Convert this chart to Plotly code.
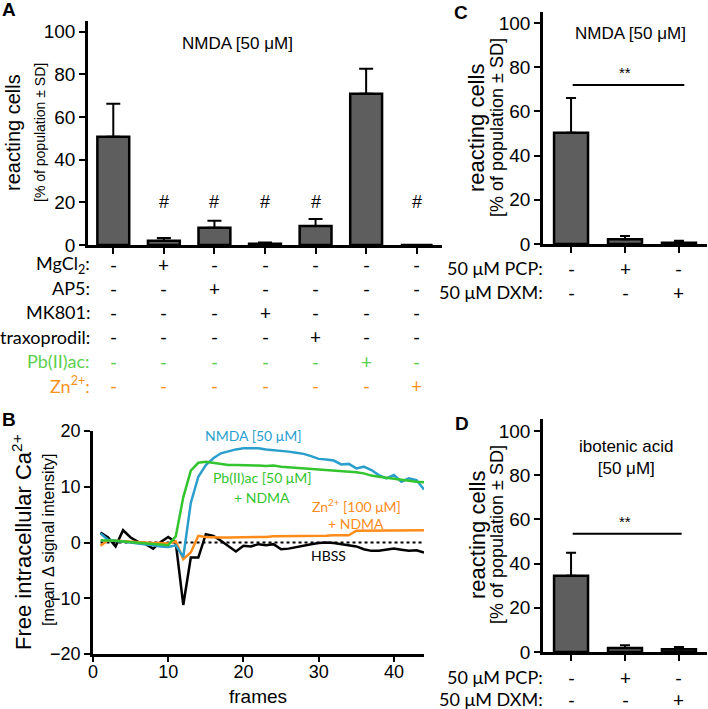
import plotly.graph_objects as go

W, H = 708, 709
def px(x): return x / W
def py(y): return 1 - y / H

ARIAL = "Liberation Sans, Arial, sans-serif"
CAL = "Lato, Carlito, Calibri, sans-serif"
BAR_FILL = "#5e5e5e"
BLUE = "#2b9fcc"
GREEN = "#33c42f"
ORANGE = "#ff8c1a"
GREEN_T = "#5ccf4e"
ORANGE_T = "#f7931e"

# ---------------- Panel A data ----------------
a_cats = [0, 1, 2, 3, 4, 5, 6]
a_vals = [50.7, 2.0, 8.1, 0.6, 8.9, 70.9, 0.0]
a_err = [15.5, 1.3, 3.3, 0.6, 3.3, 11.7, 0.0]
a_hash_cols = [1, 2, 3, 4, 6]
a_hash_y = 20
a_row_labels = ["MgCl<sub>2</sub>:", "AP5:", "MK801:", "traxoprodil:", "Pb(II)ac:", "Zn<sup>2+</sup>:"]
a_row_marks = ["-+-----", "--+----", "---+---", "----+--", "-----+-", "------+"]

# ---------------- Panel B data ----------------
frames = list(range(1, 45))
nmda = [1.6, 0.5, 0.3, 0.2, 0.0, -0.2, -0.3, -0.5, -0.7, -0.8,
        -0.5, -2.6, 7.1, 11.8, 13.9, 15.1, 16.0, 16.4, 16.7, 16.9,
        16.9, 16.9, 16.7, 16.6, 16.4, 16.3, 16.1, 15.9, 15.5, 15.0,
        14.9, 14.7, 14.0, 14.1, 13.3, 13.6, 13.0, 12.1, 11.5, 12.1,
        10.9, 11.5, 11.2, 9.5]
pb = [0.4, 0.4, 0.3, 0.2, 0.1, 0.0, -0.1, -0.2, -0.3, -0.5,
      1.1, 8.1, 12.9, 14.3, 14.5, 14.3, 14.1, 13.9, 13.9, 13.9,
      13.8, 13.8, 13.7, 13.8, 13.6, 13.5, 13.5, 13.4, 13.3, 13.2,
      13.1, 13.0, 12.9, 12.8, 12.6, 12.4, 12.0, 11.8, 11.6, 11.4,
      11.3, 11.1, 10.9, 10.8]
zn = [-0.6, 0.4, 0.3, 0.2, 0.1, 0.1, 0.0, -0.1, -0.1, -0.2,
      0.2, -3.0, -1.8, 1.2, 1.0, 0.9, 0.9, 0.9, 0.9, 1.0,
      1.0, 1.0, 1.0, 1.1, 1.1, 1.1, 1.1, 1.2, 1.2, 1.2,
      1.2, 1.3, 1.3, 1.3, 2.1, 2.1, 2.1, 2.1, 2.2, 2.2,
      2.2, 2.2, 2.2, 2.2]
hbss = [1.8, 0.9, -0.7, 2.2, 0.9, 0.1, -0.3, -1.1, 0.1, 1.0,
        0.0, -11.2, -2.7, -2.7, 1.5, 1.2, 0.3, -0.6, -1.6, -0.6,
        -0.7, -0.3, -0.5, -0.3, -1.2, -1.1, -0.8, -0.6, -0.3, -0.1,
        0.0, -0.1, -0.3, -0.5, -0.7, -1.2, -1.5, -1.5, -1.3, -1.1,
        -1.3, -1.5, -1.4, -1.8]
baseline = [0.0] * len(frames)

# ---------------- Panel C / D data ----------------
cd_cats = [0, 1, 2]
c_vals = [50.4, 2.2, 0.6]
c_err = [15.7, 1.4, 0.9]
d_vals = [34.5, 1.8, 1.3]
d_err = [10.4, 1.2, 1.0]
cd_row_labels = ["50 \u03bcM PCP:", "50 \u03bcM DXM:"]
cd_row_marks = ["-+-", "--+"]
c_sig_y = 72
d_sig_y = 53.5

fig = go.Figure()

def add_bars(cats, vals, err, xa, ya, capw):
    fig.add_trace(go.Bar(
        x=cats, y=vals, xaxis=xa, yaxis=ya,
        width=0.63, marker=dict(color=BAR_FILL, line=dict(color="black", width=2.5)),
        error_y=dict(type="data", symmetric=False, array=err, arrayminus=[0] * len(err),
                     color="black", thickness=2, width=capw),
        showlegend=False, hoverinfo="skip"))

add_bars(a_cats, a_vals, a_err, "x", "y", 7)
add_bars(cd_cats, c_vals, c_err, "x3", "y3", 5)
add_bars(cd_cats, d_vals, d_err, "x4", "y4", 5)

fig.add_trace(go.Scatter(x=frames, y=baseline, xaxis="x2", yaxis="y2", mode="lines",
                         line=dict(color="black", width=2, dash="dot"), showlegend=False,
                         hoverinfo="skip"))
for ys, col in [(hbss, "black"), (zn, ORANGE), (nmda, BLUE), (pb, GREEN)]:
    fig.add_trace(go.Scatter(x=frames, y=ys, xaxis="x2", yaxis="y2", mode="lines",
                             line=dict(color=col, width=2.5), showlegend=False,
                             hoverinfo="skip"))

axis_common = dict(showline=True, linecolor="black", linewidth=2.5, ticks="outside",
                   tickwidth=2, ticklen=6, tickcolor="black", showgrid=False, zeroline=False,
                   automargin=False,
                   tickfont=dict(family=ARIAL, size=19, color="black"), fixedrange=True)

fig.update_layout(
    width=W, height=H, margin=dict(l=0, r=0, t=0, b=0, pad=0, autoexpand=False),
    paper_bgcolor="white", plot_bgcolor="white",
    xaxis=dict(axis_common, domain=[px(88), px(442)], range=[-0.5, 6.5], anchor="y",
               tickvals=a_cats, showticklabels=False),
    yaxis=dict(axis_common, domain=[py(245), py(21)], range=[0, 105], anchor="x",
               tickvals=[0, 20, 40, 60, 80, 100]),
    xaxis2=dict(axis_common, domain=[px(93), px(424)], range=[0, 44], anchor="y2",
                tickvals=[0, 10, 20, 30, 40], ticklen=5, ticklabelstandoff=-5,
                tickfont=dict(family=ARIAL, size=18, color="black")),
    yaxis2=dict(axis_common, domain=[py(654), py(431)], range=[-20, 20], anchor="x2",
                tickvals=[-20, -10, 0, 10, 20], tickfont=dict(family=ARIAL, size=18, color="black")),
    xaxis3=dict(axis_common, domain=[px(543), px(707)], range=[-0.52, 2.52], anchor="y3",
                tickvals=cd_cats, showticklabels=False),
    yaxis3=dict(axis_common, domain=[py(244), py(12)], range=[0, 105], anchor="x3",
                tickvals=[0, 20, 40, 60, 80, 100]),
    xaxis4=dict(axis_common, domain=[px(543), px(707)], range=[-0.52, 2.52], anchor="y4",
                tickvals=cd_cats, showticklabels=False),
    yaxis4=dict(axis_common, domain=[py(652), py(419)], range=[0, 105.4], anchor="x4",
                tickvals=[0, 20, 40, 60, 80, 100]),
)

ann = []
def txt(x, y, text, size, color="black", family=ARIAL, xanchor="center", angle=0,
        xref="paper", yref="paper", yanchor="middle"):
    ann.append(dict(x=x, y=y, text=text, xref=xref, yref=yref, showarrow=False,
                    font=dict(family=family, size=size, color=color), xanchor=xanchor,
                    yanchor=yanchor, textangle=angle))

# panel letters
txt(px(0), py(10), "<b>A</b>", 19, xanchor="left")
txt(px(0), py(419), "<b>B</b>", 19, xanchor="left")
txt(px(452), py(13), "<b>C</b>", 19, xanchor="left")
txt(px(453), py(423), "<b>D</b>", 19, xanchor="left")

# panel A texts
txt(px(237), py(43), "NMDA [50 \u03bcM]", 17)
txt(px(13), py(133), "reacting cells", 20, angle=-90)
txt(px(40), py(133), "[% of population \u00b1 SD]", 14, angle=-90)
for c in a_hash_cols:
    txt(c, a_hash_y, "#", 18, xref="x", yref="y")
a_row_y = [264, 288, 312, 337, 361, 385]
a_row_col = ["black", "black", "black", "black", GREEN_T, ORANGE_T]
for lab, marks, yy, col in zip(a_row_labels, a_row_marks, a_row_y, a_row_col):
    txt(px(92), py(yy), lab, 18, color=col, family=CAL, xanchor="right")
    for j, m in enumerate(marks):
        txt(j, py(yy), m, 19, color=col, family=CAL, xref="x")

# panel B texts
txt(px(22), py(542), "Free intracellular Ca<sup>2+</sup>", 22, angle=-90)
txt(px(48), py(540), "[mean \u0394 signal intensity]", 16, angle=-90)
txt(px(258), py(696), "frames", 19)
txt(px(253), py(435), "NMDA [50 \u03bcM]", 14, color=BLUE, family=CAL)
txt(px(262), py(478), "Pb(II)ac [50 \u03bcM]", 14, color=GREEN, family=CAL)
txt(px(262), py(497), "+ NDMA", 14, color=GREEN, family=CAL)
txt(px(356), py(505), "Zn<sup>2+</sup> [100 \u03bcM]", 14, color=ORANGE, family=CAL)
txt(px(356), py(523), "+ NDMA", 14, color=ORANGE, family=CAL)
txt(px(328), py(555), "HBSS", 14, color="black", family=CAL)

# panel C / D texts
for (xr, yr, ycen, rows_y, sig) in [("x3", "y3", 128, [268, 292], c_sig_y),
                                    ("x4", "y4", 535, [677, 699], d_sig_y)]:
    txt(px(477), py(ycen), "reacting cells", 22, angle=-90)
    txt(px(497), py(ycen), "[% of population \u00b1 SD]", 18, angle=-90)
    for lab, marks, yy in zip(cd_row_labels, cd_row_marks, rows_y):
        txt(px(545), py(yy), lab, 18, family=CAL, xanchor="right")
        for j, m in enumerate(marks):
            txt(j, py(yy), m, 19, family=CAL, xref=xr)
    txt(1.0, sig + 1.0, "**", 15, xref=xr, yref=yr, yanchor="bottom")
txt(px(630), py(33), "NMDA [50 \u03bcM]", 17)
txt(px(626), py(457), "ibotenic acid<br>[50 \u03bcM]", 17)

fig.update_layout(annotations=ann)

shapes = [
    dict(type="line", xref="x3", yref="y3", x0=0.03, x1=2.1, y0=c_sig_y, y1=c_sig_y,
         line=dict(color="black", width=2)),
    dict(type="line", xref="x4", yref="y4", x0=0.03, x1=2.05, y0=d_sig_y, y1=d_sig_y,
         line=dict(color="black", width=2)),
]
fig.update_layout(shapes=shapes)

fig.write_html("out.html", config={"displayModeBar": False},
               post_script="document.body.style.margin='0';document.body.style.padding='0';")
